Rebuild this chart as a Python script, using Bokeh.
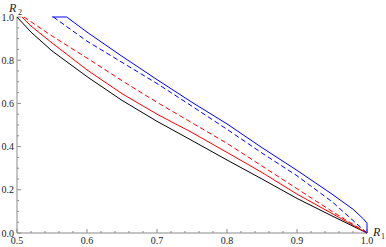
import math
from bokeh.plotting import figure
from bokeh.models import Label, Range1d
from bokeh.core.properties import value
from bokeh.embed import file_html
from bokeh.resources import INLINE

# --- data ---
black_r1 = [0.50, 0.52, 0.55, 0.60, 0.65, 0.70, 0.75, 0.80, 0.85, 0.90, 0.95, 1.00]
black_r2 = [1.000, 0.930, 0.843, 0.724, 0.614, 0.517, 0.428, 0.338, 0.250, 0.160, 0.079, 0.000]

red_solid_r1 = [0.507, 0.52, 0.55, 0.60, 0.65, 0.70, 0.75, 0.80, 0.85, 0.90, 0.95, 1.00]
red_solid_r2 = [1.000, 0.958, 0.880, 0.755, 0.645, 0.550, 0.465, 0.373, 0.280, 0.180, 0.090, 0.000]

red_dash_r1 = [0.510, 0.55, 0.60, 0.65, 0.70, 0.75, 0.80, 0.85, 0.90, 0.95, 1.00]
red_dash_r2 = [1.000, 0.912, 0.810, 0.705, 0.605, 0.510, 0.415, 0.310, 0.205, 0.100, 0.000]

blue_dash_r1 = [0.552, 0.60, 0.65, 0.70, 0.75, 0.80, 0.85, 0.90, 0.95, 1.00]
blue_dash_r2 = [1.000, 0.888, 0.790, 0.692, 0.587, 0.480, 0.370, 0.265, 0.145, 0.000]

blue_solid_r1 = [0.550, 0.571, 0.60, 0.65, 0.70, 0.75, 0.80, 0.85, 0.90, 0.95, 0.98, 0.995, 1.00, 1.00]
blue_solid_r2 = [1.000, 1.000, 0.930, 0.818, 0.710, 0.605, 0.505, 0.395, 0.290, 0.180, 0.110, 0.065, 0.045, 0.000]

x_ticks = [0.5, 0.6, 0.7, 0.8, 0.9, 1.0]
x_labels = ["0.5", "0.6", "0.7", "0.8", "0.9", "1.0"]
x_minor = [0.52, 0.54, 0.56, 0.58, 0.62, 0.64, 0.66, 0.68, 0.72, 0.74, 0.76, 0.78,
           0.82, 0.84, 0.86, 0.88, 0.92, 0.94, 0.96, 0.98]
y_ticks = [0.0, 0.2, 0.4, 0.6, 0.8, 1.0]
y_labels = ["0.0", "0.2", "0.4", "0.6", "0.8", "1.0"]
y_minor = [0.05, 0.10, 0.15, 0.25, 0.30, 0.35, 0.45, 0.50, 0.55, 0.65, 0.70, 0.75,
           0.85, 0.90, 0.95]

# plot area: 700 px per unit in x, 216 px per unit in y (half-pixel aligned)
p = figure(width=386, height=247, output_backend="svg", toolbar_location=None,
           x_axis_location=None, y_axis_location=None,
           x_range=Range1d(0.5 - 16.5 / 700, 1.0 + 19.5 / 700),
           y_range=Range1d(0.0 - 14.5 / 216, 1.0 + 16.5 / 216),
           min_border=0)
p.outline_line_color = None
p.grid.visible = False

serif = "Liberation Serif"
axis_col = "#8a8a8a"
lab_col = "#222222"

x0 = x_ticks[0]
y0 = y_ticks[0]

# axis lines
p.segment(x0=[x0], y0=[y0], x1=[x_ticks[-1]], y1=[y0], line_color=axis_col, line_width=1)
p.segment(x0=[x0], y0=[y0], x1=[x0], y1=[y_ticks[-1]], line_color=axis_col, line_width=1)

# ticks (pointing inward, lengths in screen pixels)
p.ray(x=x_ticks, y=y0, length=4, angle=math.pi / 2, length_units="screen",
      line_color=axis_col, line_width=1)
p.ray(x=x_minor, y=y0, length=2, angle=math.pi / 2, length_units="screen",
      line_color=axis_col, line_width=1)
p.ray(x=x0, y=y_ticks, length=4, angle=0, length_units="screen",
      line_color=axis_col, line_width=1)
p.ray(x=x0, y=y_minor, length=2, angle=0, length_units="screen",
      line_color=axis_col, line_width=1)

# tick labels
p.text(x=x_ticks, y=y0, text=x_labels, y_offset=4, text_align="center",
       text_baseline="top", text_font=value(serif), text_font_size="10px",
       text_color=lab_col)
p.text(x=x0, y=y_ticks, text=y_labels, x_offset=-3, text_align="right",
       text_baseline="middle", text_font=value(serif), text_font_size="10px",
       text_color=lab_col)

# curves
p.line(black_r1, black_r2, line_color="#000000", line_width=1)
p.line(red_solid_r1, red_solid_r2, line_color="#ff0000", line_width=1)
p.line(red_dash_r1, red_dash_r2, line_color="#ff0000", line_width=1, line_dash="5 3")
p.line(blue_dash_r1, blue_dash_r2, line_color="#0000ff", line_width=1, line_dash="5 3")
p.line(blue_solid_r1, blue_solid_r2, line_color="#0000ff", line_width=1)

# axis names R1 / R2
p.add_layout(Label(x=x_ticks[-1], y=y0, x_offset=6, y_offset=1, text="R",
                   text_baseline="middle", text_font=serif, text_font_style="italic",
                   text_font_size="12px", text_color=lab_col))
p.add_layout(Label(x=x_ticks[-1], y=y0, x_offset=14, y_offset=-3, text="1",
                   text_baseline="middle", text_font=serif, text_font_size="8px",
                   text_color=lab_col))
p.add_layout(Label(x=x0, y=y_ticks[-1], x_offset=-8, y_offset=9, text="R",
                   text_baseline="middle", text_font=serif, text_font_style="italic",
                   text_font_size="12px", text_color=lab_col))
p.add_layout(Label(x=x0, y=y_ticks[-1], x_offset=1, y_offset=5, text="2",
                   text_baseline="middle", text_font=serif, text_font_size="8px",
                   text_color=lab_col))

open("out.html", "w").write(file_html(p, INLINE))
